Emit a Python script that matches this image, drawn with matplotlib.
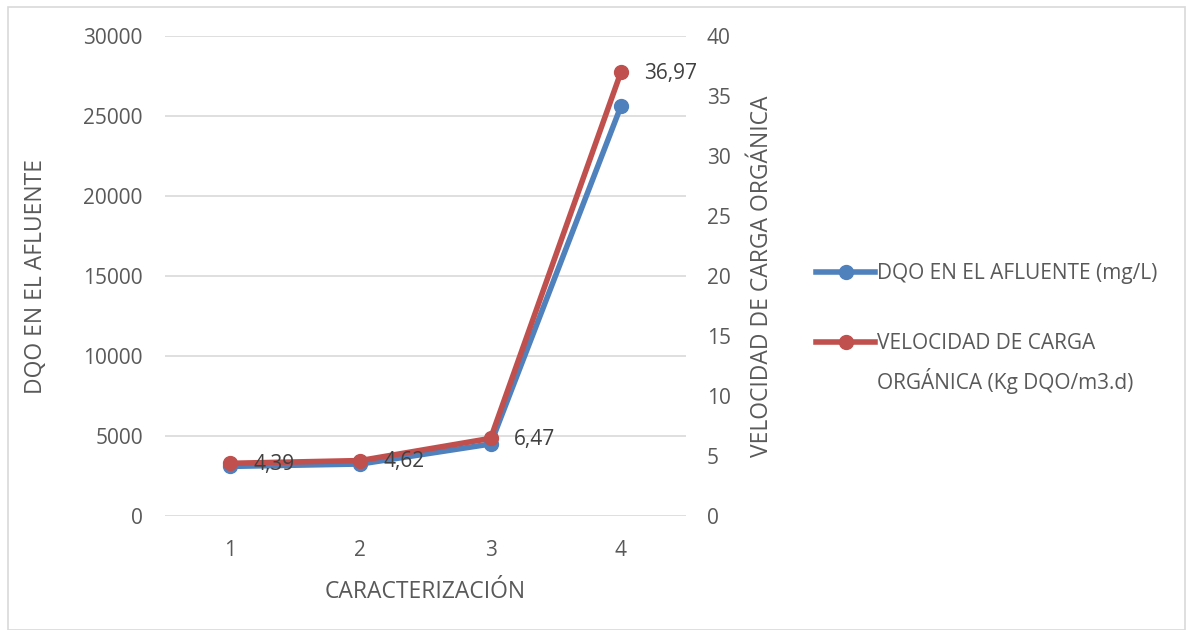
import matplotlib.pyplot as plt
from matplotlib.patches import Rectangle
from matplotlib.lines import Line2D

plt.rcParams['font.family'] = ['Open Sans', 'DejaVu Sans']

# data
caracterizacion = [1, 2, 3, 4]
dqo_afluente = [3100, 3250, 4500, 25600]
carga_organica = [4.39, 4.62, 6.47, 36.97]
carga_labels = ['4,39', '4,62', '6,47', '36,97']

blue = '#4f81bd'
red = '#c0504d'
txt = '#595959'

W, H = 1186, 630
fig = plt.figure(figsize=(W / 100, H / 100), dpi=100)
ax = fig.add_axes([165 / W, 1 - 516 / H, (686 - 165) / W, (516 - 36) / H])
ax2 = ax.twinx()

# outer chart border
fig.patches.append(Rectangle((8 / W, 0), 1 - 9.5 / W, 1 - 7 / H, transform=fig.transFigure,
                             fill=False, edgecolor='#d9d9d9', linewidth=1.2))

ax.plot(caracterizacion, dqo_afluente, color=blue, linewidth=4, marker='o',
        markersize=10, solid_capstyle='round', zorder=3)
ax2.plot(caracterizacion, carga_organica, color=red, linewidth=4, marker='o',
         markersize=10, solid_capstyle='round', zorder=3)

for x, y, s in zip(caracterizacion, carga_organica, carga_labels):
    ax2.annotate(s, (x, y), xytext=(17, -1), textcoords='offset points',
                 ha='left', va='center', fontsize=15, color='#404040')

ax.set_xlim(0.5, 4.5)
ax.set_ylim(0, 30000)
ax2.set_ylim(0, 40)
ax.set_xticks(caracterizacion)
ax.set_yticks(range(0, 30001, 5000))
ax2.set_yticks(range(0, 41, 5))

ax.grid(axis='y', color='#d9d9d9', linewidth=1.2)
ax.set_axisbelow(True)
for a in (ax, ax2):
    for sp in a.spines.values():
        sp.set_visible(False)
    a.tick_params(length=0, labelsize=15, labelcolor=txt)
ax.tick_params(axis='y', pad=16)
ax2.tick_params(axis='y', pad=15)
ax.tick_params(axis='x', pad=17)

ax.set_xlabel('CARACTERIZACIÓN', fontsize=16.5, color=txt, labelpad=14)
ax.set_ylabel('DQO EN EL AFLUENTE', fontsize=16.5, color=txt, labelpad=25)
ax2.set_ylabel('VELOCIDAD DE CARGA ORGÁNICA', fontsize=16.5, color=txt, labelpad=14)

# legend: second label wraps onto a line below its marker
handles = [Line2D([], [], color=blue, linewidth=4, marker='o', markersize=10),
           Line2D([], [], color=red, linewidth=4, marker='o', markersize=10)]
leg = fig.legend(handles, ['DQO EN EL AFLUENTE (mg/L)', 'VELOCIDAD DE CARGA'],
                 loc='upper left', bbox_to_anchor=(808 / W, 1 - 255 / H), frameon=False,
                 fontsize=15, labelcolor=txt, handlelength=2.8, handletextpad=0.1,
                 labelspacing=2.35, borderaxespad=0)
fig.canvas.draw()
t2 = leg.get_texts()[1]
bb = t2.get_window_extent().transformed(fig.transFigure.inverted())
fig.text(bb.x0, bb.y0 - 37 / H + bb.height / 2, 'ORGÁNICA (Kg DQO/m3.d)',
         fontsize=15, color=txt, ha='left', va='center')

fig.savefig('out.png', dpi=100)
